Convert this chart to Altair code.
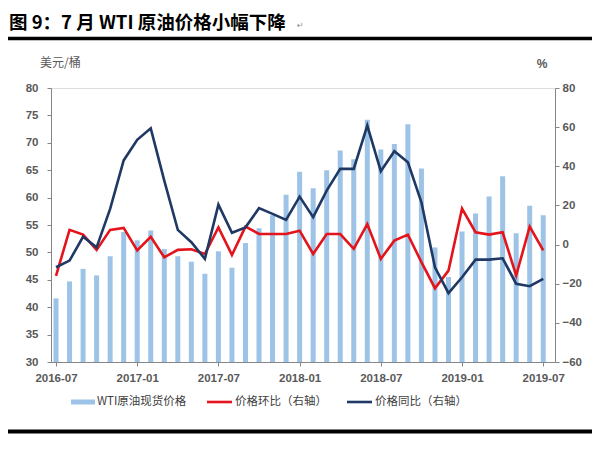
import altair as alt
import pandas as pd

months = ["2016-07","2016-08","2016-09","2016-10","2016-11","2016-12",
          "2017-01","2017-02","2017-03","2017-04","2017-05","2017-06",
          "2017-07","2017-08","2017-09","2017-10","2017-11","2017-12",
          "2018-01","2018-02","2018-03","2018-04","2018-05","2018-06",
          "2018-07","2018-08","2018-09","2018-10","2018-11","2018-12",
          "2019-01","2019-02","2019-03","2019-04","2019-05","2019-06","2019-07"]
price = [41.6, 44.7, 47.0, 45.8, 49.3, 53.7,
         52.2, 54.0, 50.6, 49.3, 48.3, 46.1, 50.2, 47.2, 51.7, 54.4, 56.8, 60.5,
         64.7, 61.7, 65.0, 68.6, 67.0, 74.2, 68.8, 69.8, 73.4, 65.3, 50.9, 45.5,
         53.8, 57.1, 60.2, 63.9, 53.5, 58.5, 56.8]
mom = [-16, 7.5, 5.1, -2.7, 7.5, 8.5,
       -3, 4, -6.5, -2.7, -2.4, -4.8, 8.8, -5.3, 9.2, 5.4, 5.4, 5.4,
       7.1, -4.8, 5.4, 5.4, -2.2, 10.5, -7.3, 2.0, 5.1, -9.0, -22.3, -13.3,
       18.4, 6.3, 5.1, 6.3, -15.8, 9.2, -3]
yoy = [-11.6, -8.2, 4, -1.4, 18.2, 43,
       53.5, 59.4, 32.7, 7.5, 1.2, -7.3, 20.4, 6, 8.8, 18.6, 15.7, 12.6,
       24.5, 14, 27.6, 38.7, 38.7, 60.8, 37.5, 47.7, 42, 21.6, -11.6, -24.8,
       -16.7, -7.7, -7.7, -7, -20, -21.3, -17.5]
tick_labels = ["2016-07", "2017-01", "2017-07", "2018-01", "2018-07", "2019-01", "2019-07"]
left_ticks = list(range(30, 81, 5))
right_ticks = list(range(-60, 81, 20))

title_text = "图 9：7 月 WTI 原油价格小幅下降"
legend_names = ["WTI原油现货价格", "价格环比（右轴）", "价格同比（右轴）"]

BAR = "#9DC3E6"
RED = "#E3141B"
NAVY = "#203864"
AXIS = "#868686"
LAB = "#595959"
FONT = "Liberation Sans"
CJK = "Noto Sans CJK SC"

df = pd.DataFrame({"i": list(range(len(months))), "month": months,
                   "price": price, "mom": mom, "yoy": yoy})

W, H = 504, 274
label_expr = "[" + ",".join("'%s'" % t for t in tick_labels) + "][round(datum.value/6)]"

common = dict(title="", grid=False, tickSize=4, domainColor=AXIS, tickColor=AXIS,
              labelColor=LAB, labelFont=FONT, labelFontSize=11.5, labelFontWeight="bold",
              labelOverlap=False)

xenc = alt.X("i:Q", scale=alt.Scale(domain=[0, 36.5], nice=False, zero=False),
             axis=alt.Axis(values=[6 * k for k in range(len(tick_labels))], labelExpr=label_expr,
                           labelPadding=6, **common))

base = alt.Chart(df)

bars = base.mark_bar(size=5, color=BAR).encode(
    x=xenc,
    y=alt.Y("price:Q", scale=alt.Scale(domain=[30, 80], nice=False, zero=False),
            axis=alt.Axis(orient="left", values=left_ticks, labelPadding=9, **common)),
    y2=alt.datum(30),
)

yright = alt.Scale(domain=[-60, 80], nice=False, zero=False)
right_axis = alt.Axis(orient="right", values=right_ticks, labelPadding=3, **common)
red = base.mark_line(color=RED, strokeWidth=2.6).encode(
    x=alt.X("i:Q"),
    y=alt.Y("mom:Q", scale=yright, axis=right_axis),
)
navy = base.mark_line(color=NAVY, strokeWidth=2.6).encode(
    x=alt.X("i:Q"),
    y=alt.Y("yoy:Q", scale=yright, axis=right_axis),
)
lines = alt.layer(red, navy)

one = alt.Data(values=[{"a": 1}])
deco = []
deco.append(alt.Chart(one).mark_text(align="left", baseline="middle", font=CJK, fontSize=18.5,
                                     fontWeight="bold", color="#000000").encode(
    x=alt.value(-42), y=alt.value(-65.5), text=alt.value(title_text)))
deco.append(alt.Chart(one).mark_text(align="left", baseline="middle", font="DejaVu Sans",
                                     fontSize=8, color="#888888").encode(
    x=alt.value(246), y=alt.value(-62), text=alt.value("↵")))
deco.append(alt.Chart(one).mark_rule(color="#000000", strokeWidth=3.5).encode(
    x=alt.value(-43), x2=alt.value(541), y=alt.value(-49.5)))
deco.append(alt.Chart(one).mark_rule(color="#000000", strokeWidth=4).encode(
    x=alt.value(-43), x2=alt.value(541), y=alt.value(343.5)))
deco.append(alt.Chart(one).mark_text(align="left", baseline="middle", font=CJK, fontSize=12,
                                     color=LAB).encode(
    x=alt.value(-11), y=alt.value(-25), text=alt.value("美元/桶")))
deco.append(alt.Chart(one).mark_text(align="center", baseline="middle", font=FONT, fontSize=12,
                                     fontWeight="bold", color=LAB).encode(
    x=alt.value(491), y=alt.value(-24.5), text=alt.value("%")))
# legend
ly = 314
deco.append(alt.Chart(one).mark_rule(color=BAR, strokeWidth=5).encode(
    x=alt.value(20), x2=alt.value(44), y=alt.value(ly)))
deco.append(alt.Chart(one).mark_rule(color=RED, strokeWidth=2.6).encode(
    x=alt.value(156), x2=alt.value(181), y=alt.value(ly)))
deco.append(alt.Chart(one).mark_rule(color=NAVY, strokeWidth=2.6).encode(
    x=alt.value(296), x2=alt.value(321), y=alt.value(ly)))
for xv, name in zip([46, 184, 324], legend_names):
    deco.append(alt.Chart(one).mark_text(align="left", baseline="middle", font=CJK, fontSize=11.5,
                                         color="#404040").encode(
        x=alt.value(xv), y=alt.value(ly), text=alt.value(name)))

chart = alt.layer(bars, lines, *deco).resolve_scale(y="independent").properties(
    width=W, height=H,
    padding={"left": 43, "top": 80, "right": 37, "bottom": 80},
    autosize=alt.AutoSizeParams(type="none"),
).configure_view(stroke=None).configure(background="white")

chart.save("out.html", embed_options={"renderer": "svg", "actions": False})
